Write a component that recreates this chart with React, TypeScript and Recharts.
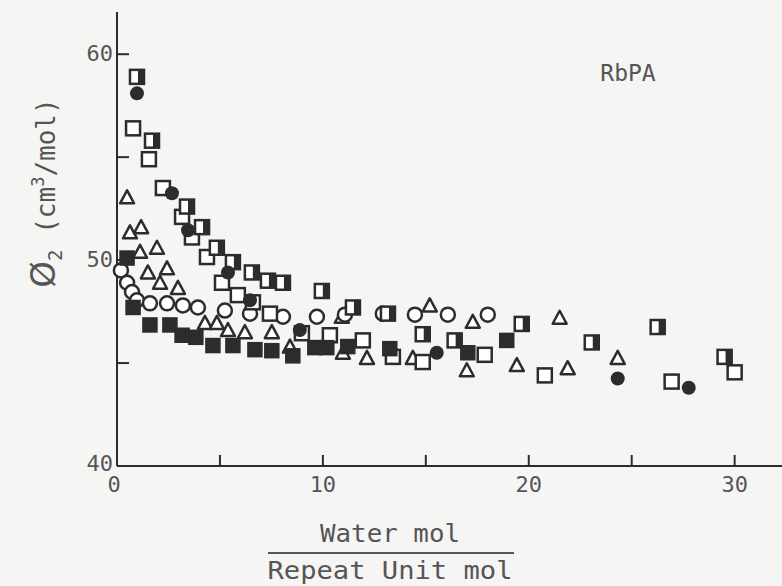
import { ScatterChart, Scatter, XAxis, YAxis } from "recharts";

// values (x = water/repeat unit mol, y = phi2 in cm3/mol)
const halfSquares: [number, number][] = [
  [0.97, 58.9], [1.7, 55.8], [3.4, 52.6], [4.13, 51.6], [4.85, 50.6], [5.63, 49.9],
  [6.55, 49.4], [7.33, 49.0], [8.06, 48.9], [9.95, 48.5], [11.46, 47.7], [13.16, 47.4],
  [14.85, 46.4], [16.4, 46.1], [19.66, 46.9], [23.06, 46.0], [26.26, 46.75], [29.51, 45.3],
];

const openSquares: [number, number][] = [
  [0.78, 56.4], [1.55, 54.9], [2.23, 53.5], [3.16, 52.1], [3.64, 51.1], [4.37, 50.15],
  [5.1, 48.9], [5.87, 48.3], [6.6, 47.95], [7.43, 47.4], [8.98, 46.45], [10.34, 46.35],
  [11.94, 46.1], [13.4, 45.3], [14.85, 45.05], [17.86, 45.4], [20.78, 44.4], [26.94, 44.1],
  [30.0, 44.55],
];

const filledCircles: [number, number][] = [
  [0.97, 58.1], [2.67, 53.25], [3.45, 51.45], [5.39, 49.4], [6.46, 48.05], [8.88, 46.6],
  [15.53, 45.5], [24.32, 44.25], [27.77, 43.8],
];

const filledSquares: [number, number][] = [
  [0.49, 50.1], [0.78, 47.7], [1.6, 46.85], [2.57, 46.85], [3.16, 46.35], [3.83, 46.25],
  [4.66, 45.85], [5.63, 45.85], [6.7, 45.65], [7.52, 45.6], [8.54, 45.35], [9.61, 45.75],
  [10.19, 45.75], [11.21, 45.8], [13.25, 45.7], [17.04, 45.5], [18.93, 46.1],
];

const openCircles: [number, number][] = [
  [0.19, 49.5], [0.49, 48.9], [0.73, 48.45], [0.97, 48.05], [1.6, 47.9], [2.43, 47.9],
  [3.2, 47.8], [3.93, 47.7], [5.24, 47.55], [6.46, 47.4], [8.06, 47.25], [9.71, 47.25],
  [11.07, 47.35], [12.91, 47.4], [14.47, 47.35], [16.07, 47.35], [18.01, 47.35],
];

const openTriangles: [number, number][] = [
  [0.49, 53.05], [0.63, 51.35], [1.17, 51.6], [1.12, 50.4], [1.94, 50.6], [1.5, 49.4],
  [2.43, 49.6], [2.09, 48.9], [2.96, 48.65], [4.27, 46.95], [4.85, 46.95], [5.39, 46.6],
  [6.21, 46.5], [7.52, 46.5], [8.4, 45.8], [10.92, 47.25], [10.97, 45.5], [12.14, 45.25],
  [14.37, 45.25], [15.19, 47.8], [17.28, 47.0], [16.99, 44.65], [19.42, 44.9], [21.5, 47.2],
  [21.89, 44.75], [24.32, 45.25],
];

const xTicks = [0, 5, 10, 15, 20, 25, 30];
const xTickLabels = ["0", "", "10", "", "20", "", "30"];
const yTicks = [40, 45, 50, 55, 60];
const yTickLabels = ["40", "", "50", "", "60"];

const INK = "#2c2c2c";
const TEXT = "#555";
const MONO = "'DejaVu Sans Mono', 'Liberation Mono', monospace";
const PLOT_LEFT = 117;
const PLOT_BOTTOM = 466;

const toPoints = (arr: [number, number][]) => arr.map(([x, y]) => ({ x, y }));

const S = 7; // half marker size

function OpenSquare(p: any) {
  return <rect x={p.cx - S} y={p.cy - S} width={2 * S} height={2 * S} fill="#fff" stroke={INK} strokeWidth={2.5} />;
}

function HalfSquare(p: any) {
  return (
    <g>
      <rect x={p.cx - S} y={p.cy - S} width={2 * S} height={2 * S} fill="#fff" stroke={INK} strokeWidth={2.5} />
      <rect x={p.cx + 1} y={p.cy - S} width={S} height={2 * S} fill={INK} />
    </g>
  );
}

function FilledSquare(p: any) {
  return <rect x={p.cx - S} y={p.cy - S} width={2 * S} height={2 * S} fill={INK} stroke={INK} strokeWidth={1.5} />;
}

function OpenCircle(p: any) {
  return <circle cx={p.cx} cy={p.cy} r={S} fill="#fff" stroke={INK} strokeWidth={2.5} />;
}

function FilledCircle(p: any) {
  return <circle cx={p.cx} cy={p.cy} r={S} fill={INK} />;
}

function OpenTriangle(p: any) {
  const pts = `${p.cx},${p.cy - 7} ${p.cx - 7},${p.cy + 6} ${p.cx + 7},${p.cy + 6}`;
  return <polygon points={pts} fill="#fff" stroke={INK} strokeWidth={2.5} strokeLinejoin="round" />;
}

function XTick(props: any) {
  const { payload, index } = props;
  const x = payload.coordinate;
  return (
    <g>
      {index > 0 && <line x1={x} x2={x} y1={PLOT_BOTTOM} y2={PLOT_BOTTOM - 11} stroke={INK} strokeWidth={2} />}
      <text x={x - (index === 0 ? 3 : 0)} y={PLOT_BOTTOM + 26} textAnchor="middle" fontSize={22} fontFamily={MONO} fill={TEXT}>
        {xTickLabels[index]}
      </text>
    </g>
  );
}

function YTick(props: any) {
  const { payload, index } = props;
  const y = payload.coordinate;
  return (
    <g>
      {index > 0 && <line x1={PLOT_LEFT} x2={PLOT_LEFT + 12} y1={y} y2={y} stroke={INK} strokeWidth={2} />}
      <text x={PLOT_LEFT - 4} y={y + (index === 0 ? 5 : 7)} textAnchor="end" fontSize={22} fontFamily={MONO} fill={TEXT}>
        {yTickLabels[index]}
      </text>
    </g>
  );
}

export default function App() {
  return (
    <div style={{ position: "absolute", left: 0, top: 0, width: 782, height: 586, background: "#f5f5f3" }}>
      <ScatterChart width={782} height={586} margin={{ top: 12, right: 0, bottom: 0, left: 0 }}>
        <XAxis
          type="number"
          dataKey="x"
          domain={[0, 32.3]}
          ticks={xTicks}
          interval={0}
          height={120}
          tickLine={false}
          axisLine={{ stroke: INK, strokeWidth: 2 }}
          tick={<XTick />}
        />
        <YAxis
          type="number"
          dataKey="y"
          domain={[40, 62.05]}
          ticks={yTicks}
          interval={0}
          width={117}
          tickLine={false}
          axisLine={{ stroke: INK, strokeWidth: 2 }}
          tick={<YTick />}
        />
        <Scatter data={toPoints(openTriangles)} shape={OpenTriangle} isAnimationActive={false} />
        <Scatter data={toPoints(openCircles)} shape={OpenCircle} isAnimationActive={false} />
        <Scatter data={toPoints(openSquares)} shape={OpenSquare} isAnimationActive={false} />
        <Scatter data={toPoints(halfSquares)} shape={HalfSquare} isAnimationActive={false} />
        <Scatter data={toPoints(filledSquares)} shape={FilledSquare} isAnimationActive={false} />
        <Scatter data={toPoints(filledCircles)} shape={FilledCircle} isAnimationActive={false} />
      </ScatterChart>
      <svg width={782} height={586} style={{ position: "absolute", left: 0, top: 0, pointerEvents: "none" }}>
        <text x={628} y={81} textAnchor="middle" fontSize={23} fontFamily={MONO} fill={TEXT}>
          RbPA
        </text>
        <text transform="translate(55,193) rotate(-90)" textAnchor="middle" fontSize={26} fontFamily={MONO} fill={TEXT}>
          <tspan fontFamily="'DejaVu Sans', sans-serif" fontSize={34}>Ø</tspan>
          <tspan fontSize={19} dy={7}>2</tspan>
          <tspan dy={-7}> (cm</tspan>
          <tspan fontSize={17} dy={-11}>3</tspan>
          <tspan dy={11}>/mol)</tspan>
        </text>
        <text x={390} y={542} textAnchor="middle" fontSize={24} fontFamily={MONO} fill={TEXT} textLength={140} lengthAdjust="spacingAndGlyphs">
          Water mol
        </text>
        <line x1={268} x2={514} y1={553} y2={553} stroke={TEXT} strokeWidth={2} />
        <text x={390} y={579} textAnchor="middle" fontSize={24} fontFamily={MONO} fill={TEXT} textLength={245} lengthAdjust="spacingAndGlyphs">
          Repeat Unit mol
        </text>
      </svg>
    </div>
  );
}
